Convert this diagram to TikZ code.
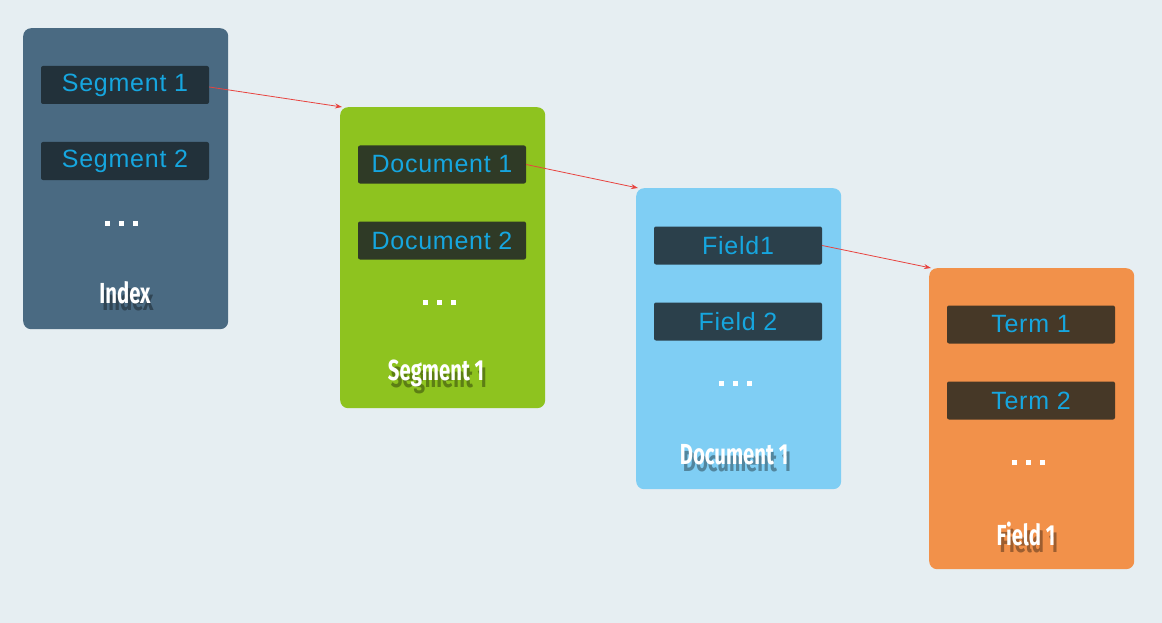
\documentclass[tikz,border=0pt]{standalone}
\usepackage{fontspec}
\setmainfont{Liberation Sans}
\newfontfamily\boxfont[LetterSpace=3]{Liberation Sans}
\newfontfamily\labelfont{Fira Sans}
\usetikzlibrary{arrows.meta}
\definecolor{bg}{HTML}{E6EEF2}
\definecolor{cIndex}{HTML}{4A6A82}
\definecolor{dIndex}{HTML}{22313A}
\definecolor{cSeg}{HTML}{8EC31F}
\definecolor{dSeg}{HTML}{2F3A26}
\definecolor{cDoc}{HTML}{7FCEF4}
\definecolor{dDoc}{HTML}{2B404B}
\definecolor{cField}{HTML}{F2914A}
\definecolor{dField}{HTML}{463827}
\definecolor{txtcyan}{HTML}{16A6DF}
\definecolor{arrowred}{HTML}{E8433F}
\newcommand{\threedots}{\textcolor{white}{\rule{5pt}{5pt}\hspace{9pt}\rule{5pt}{5pt}\hspace{9pt}\rule{5pt}{5pt}}}
\tikzset{
  outerbox/.style={anchor=north west, minimum width=205pt, minimum height=301pt, rounded corners=8pt, inner sep=0pt, draw=none},
  innerbox/.style={minimum width=168pt, minimum height=38pt, rounded corners=2pt, inner sep=0pt, text=txtcyan, font=\boxfont\fontsize{25}{26}\selectfont},
  dotsnode/.style={inner sep=0pt},
  lbl/.style={text=white, xscale=0.7, font=\labelfont\bfseries\fontsize{29}{30}\selectfont, inner sep=0pt},
  lblshadow/.style={text=black, opacity=0.35, xscale=0.7, font=\labelfont\bfseries\fontsize{29}{30}\selectfont, inner sep=0pt},
  link/.style={draw=arrowred, line width=0.8pt, -{Stealth[length=7pt,width=5pt]}}
}
\begin{document}
\begin{tikzpicture}[x=1pt,y=-1pt]
\fill[bg] (0,0) rectangle (1162,623);
\useasboundingbox (0,0) rectangle (1162,623);

% Index
\node[outerbox, fill=cIndex] (index) at (23,28) {};
\node[innerbox, fill=dIndex] (seg1) at (125,85) {Segment 1};
\node[innerbox, fill=dIndex] (seg2) at (125,161) {Segment 2};
\node[dotsnode] (dots1) at (121,223) {\threedots};
\node[lblshadow] (indexsh) at (128,300) {Index};
\node[lbl] (indexlbl) at (125,293) {Index};

% Segment 1
\node[outerbox, fill=cSeg] (segment) at (340,107) {};
\node[innerbox, fill=dSeg] (doc1) at (442,164.5) {Document 1};
\node[innerbox, fill=dSeg] (doc2) at (442,240.5) {Document 2};
\node[dotsnode] (dots2) at (439,302) {\threedots};
\node[lblshadow] (segsh) at (439,380) {Segment 1};
\node[lbl] (seglbl) at (436,373) {Segment 1};

% Document 1
\node[outerbox, fill=cDoc] (document) at (636,188) {};
\node[innerbox, fill=dDoc] (field1) at (738,245.5) {Field1};
\node[innerbox, fill=dDoc] (field2) at (738,321.5) {Field 2};
\node[dotsnode] (dots3) at (735,383) {\threedots};
\node[lblshadow] (docsh) at (737,462) {Document 1};
\node[lbl] (doclbl) at (734,455) {Document 1};

% Field 1
\node[outerbox, fill=cField] (field) at (929,268) {};
\node[innerbox, fill=dField] (term1) at (1031,324.5) {Term 1};
\node[innerbox, fill=dField] (term2) at (1031,400.5) {Term 2};
\node[dotsnode] (dots4) at (1028,462) {\threedots};
\node[lblshadow] (fieldsh) at (1029,541) {Field 1};
\node[lbl] (fieldlbl) at (1026,534) {Field 1};

% links
\draw[link] ([yshift=-2pt]seg1.east) -- ([xshift=2pt]segment.north west);
\draw[link] (doc1.east) -- ([xshift=2pt]document.north west);
\draw[link] (field1.east) -- ([xshift=2pt]field.north west);
\end{tikzpicture}
\end{document}
